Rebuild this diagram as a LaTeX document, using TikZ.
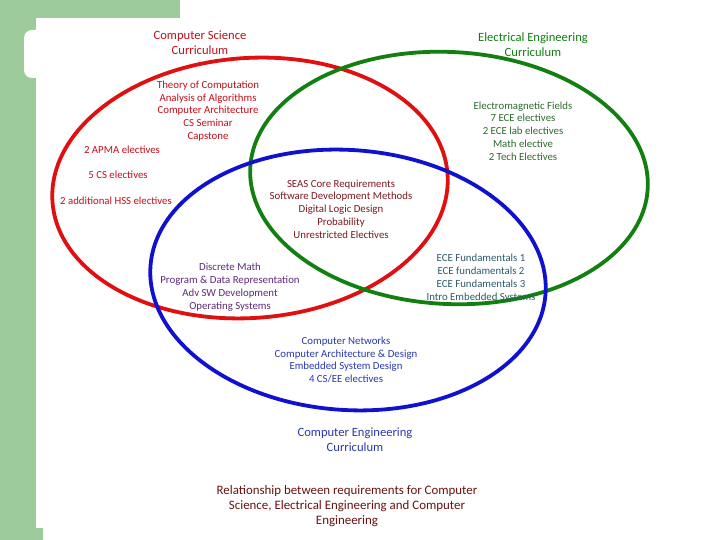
\documentclass[tikz,border=0pt]{standalone}
\usepackage{fontspec}
\setmainfont{Carlito}
\begin{document}
\begin{tikzpicture}[x=1pt,y=1pt,
  lst/.style={align=center,font=\fontsize{10.8}{12.8}\selectfont,inner sep=0pt},
  ttl/.style={align=center,font=\fontsize{12.6}{15}\selectfont,inner sep=0pt},
  ring/.style={line width=3.8pt}]
\definecolor{panel}{HTML}{9DCB9B}
\definecolor{csred}{HTML}{E01010}
\definecolor{eegreen}{HTML}{118011}
\definecolor{ceblue}{HTML}{1010D0}
\definecolor{cstext}{HTML}{C0101A}
\definecolor{eetext}{HTML}{2E6A2E}
\definecolor{coretext}{HTML}{7A1A20}
\definecolor{purp}{HTML}{5E2A78}
\definecolor{teal}{HTML}{2D5A6A}
\definecolor{cetext}{HTML}{2A38B0}
\definecolor{captext}{HTML}{6A1010}
\useasboundingbox (0,0) rectangle (720,540);
\fill[white] (0,0) rectangle (720,540);
% green panel
\fill[panel] (0,540) rectangle (180,522);
\fill[panel] (0,0) rectangle (36,540);
\fill[panel] (0,0) rectangle (43,12);
\fill[white,rounded corners=8pt] (24,510) rectangle (60,462);
\fill[white] (36,510) rectangle (60,462);
% ellipses
\draw[ring,csred,rotate around={4:(250,352)}] (250,352) ellipse [x radius=198, y radius=130];
\draw[ring,eegreen,rotate around={-3:(449,362)}] (449,362) ellipse [x radius=199, y radius=126];
\draw[ring,ceblue,rotate around={-4:(348,260)}] (348,260) ellipse [x radius=198, y radius=130];
% titles
\node[ttl,text=cstext] (cs) at (200,497) {Computer Science\\Curriculum};
\node[ttl,text=eegreen] (ee) at (533,495) {Electrical Engineering\\Curriculum};
\node[ttl,text=cetext] (ce) at (355,100) {Computer Engineering\\Curriculum};
% lists
\node[lst,text=cstext] (csl) at (208,429) {Theory of Computation\\Analysis of Algorithms\\Computer Architecture\\CS Seminar\\Capstone};
\node[lst,text=cstext] (apma) at (122,390) {2 APMA electives};
\node[lst,text=cstext] (cse) at (118,365) {5 CS electives};
\node[lst,text=cstext] (hss) at (116,339) {2 additional HSS electives};
\node[lst,text=eetext] (eel) at (523,409) {Electromagnetic Fields\\7 ECE electives\\2 ECE lab electives\\Math elective\\2 Tech Electives};
\node[lst,text=coretext] (core) at (341,331) {SEAS Core Requirements\\Software Development Methods\\Digital Logic Design\\Probability\\Unrestricted Electives};
\node[lst,text=purp] (dm) at (230,253) {Discrete Math\\Program \& Data Representation\\Adv SW Development\\Operating Systems};
\node[lst,text=teal] (ecef) at (481,262) {ECE Fundamentals 1\\ECE fundamentals 2\\ECE Fundamentals 3\\Intro Embedded Systems};
\node[lst,text=cetext] (net) at (346,180) {Computer Networks\\Computer Architecture \& Design\\Embedded System Design\\4 CS/EE electives};
\node[ttl,text=captext,font=\fontsize{12.9}{15}\selectfont] (cap) at (347,34) {Relationship between requirements for Computer\\Science, Electrical Engineering and Computer\\Engineering};
\end{tikzpicture}
\end{document}
